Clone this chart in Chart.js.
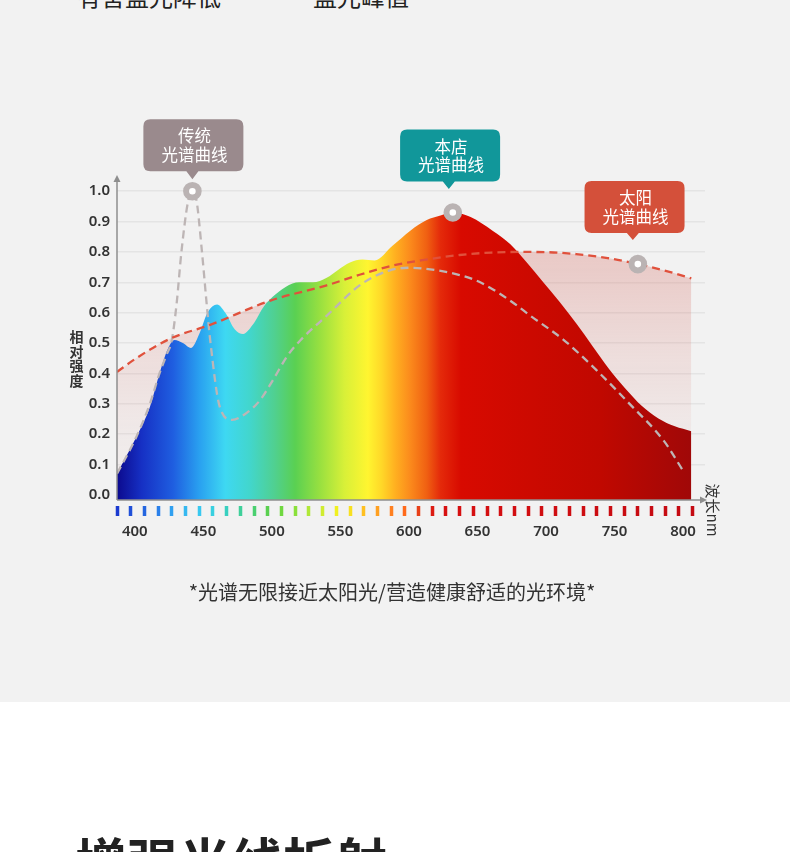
<!DOCTYPE html>
<html lang="zh">
<head>
<meta charset="utf-8">
<title>光谱曲线</title>
<script src="https://cdn.jsdelivr.net/npm/chart.js@4.4.1/dist/chart.umd.min.js"></script>
<style>
  html, body { margin: 0; padding: 0; }
  body { width: 790px; height: 852px; background: #fff; position: relative; overflow: hidden;
         font-family: "Noto Sans CJK SC", "Noto Sans", sans-serif; }
  .panel { position: absolute; left: 0; top: 0; width: 790px; height: 702px; background: #f2f2f2; }
  #chart { position: absolute; left: 0; top: 0; }
  .top-text { position: absolute; top: -16px; font-size: 24px; line-height: 24px; color: #222; white-space: nowrap; }
  .caption { position: absolute; left: 0; width: 784px; top: 580px; text-align: center;
             font-size: 20px; line-height: 24px; color: #333; }
  .next-title { position: absolute; left: 75px; top: 834px; font-size: 52px; line-height: 52px;
                font-weight: 700; color: #222; white-space: nowrap; }
</style>
</head>
<body>
<div class="panel"></div>
<div class="top-text" style="left:77px">有害蓝光降低</div>
<div class="top-text" style="left:313px">蓝光峰值</div>
<canvas id="chart" width="790" height="702"></canvas>
<div class="caption">*光谱无限接近太阳光/营造健康舒适的光环境*</div>
<div class="next-title">增强光线折射</div>

<script>
// wavelength in nm, relative intensity 0..1
const xLabels = [400, 450, 500, 550, 600, 650, 700, 750, 800];
const yTicks = [0, 0.1, 0.2, 0.3, 0.4, 0.5, 0.6, 0.7, 0.8, 0.9, 1.0];
const dashNm = [387, 397, 407, 417, 427, 437, 447, 457, 467, 477, 487, 497, 507, 517, 527,
                537, 547, 557, 567, 577, 587, 597, 607, 617, 627, 637, 647, 657, 667, 677,
                687, 697, 707, 717, 727, 737, 747, 757, 767, 777, 787, 797, 807];

// 本店 spectrum
const storeNm  = [387, 401, 411, 418, 424, 429, 435, 441, 447, 453, 460, 466, 473, 479, 486,
                  494, 501, 510, 520, 530, 540, 548, 557, 566, 575, 588, 601, 613, 623, 632,
                  645, 661, 674, 686, 698, 710, 722, 734, 746, 758, 770, 782, 794, 806];
const storeVal = [0.07, 0.19, 0.29, 0.40, 0.48, 0.51, 0.50, 0.484, 0.53, 0.60, 0.627, 0.60, 0.545, 0.53, 0.56,
                  0.62, 0.654, 0.685, 0.70, 0.70, 0.715, 0.74, 0.765, 0.775, 0.772, 0.82, 0.87, 0.905, 0.92, 0.93,
                  0.915, 0.87, 0.825, 0.765, 0.70, 0.635, 0.565, 0.49, 0.415, 0.35, 0.293, 0.252, 0.226, 0.21];

// 传统 spectrum
const oldNm  = [387, 401, 411, 418, 423, 427, 430.5, 434, 439, 442, 445, 449, 452.4, 455, 462,
                471, 480, 491, 501, 511, 521, 540, 564, 585, 601, 620, 637, 652, 676, 688,
                713, 737, 761, 786, 800];
const oldVal = [0.07, 0.19, 0.30, 0.40, 0.46, 0.51, 0.63, 0.80, 0.97, 1.0, 0.97, 0.80, 0.63, 0.51, 0.29,
                0.247, 0.265, 0.31, 0.38, 0.456, 0.51, 0.59, 0.69, 0.738, 0.748, 0.74, 0.724, 0.70, 0.633, 0.592,
                0.51, 0.41, 0.30, 0.178, 0.08];

// 太阳 spectrum
const sunNm  = [387, 401, 426, 455, 499, 540, 564, 588, 610, 637, 660, 681, 702, 722, 745, 767, 788, 806];
const sunVal = [0.405, 0.45, 0.515, 0.56, 0.64, 0.69, 0.725, 0.755, 0.773, 0.79, 0.798, 0.80, 0.799, 0.793, 0.78, 0.76, 0.737, 0.713];

// labelled points: 传统 peak, 本店 peak, 太阳
const peakNm  = [442, 632, 767];
const peakVal = [1.0, 0.93, 0.76];
const calloutText = [['传统', '光谱曲线'], ['本店', '光谱曲线'], ['太阳', '光谱曲线']];

// styling
const calloutStyle = [
    { color: '#9a8a8d', dx: 1,    tipDx: 0,  bottom: 20, tip: 12 },
    { color: '#11979a', dx: -2.7, tipDx: -4, bottom: 31, tip: 23.5 },
    { color: '#d4503a', dx: -3.3, tipDx: -5, bottom: 31, tip: 24 }
];
const areaStops = [[387, '#0c0a8e'], [405, '#1630c4'], [428, '#1f5ee0'], [447, '#29a0f0'], [466, '#3ed8f2'],
                   [484, '#42d6cc'], [502, '#50d090'], [517, '#5ad052'], [535, '#98e040'], [553, '#d8f038'],
                   [570, '#fff530'], [580, '#ffd828'], [590, '#ffb020'], [601, '#fb8a1c'], [613, '#f06012'],
                   [623, '#e42a0a'], [638, '#d80a00'], [740, '#c00800'], [806, '#a00808']];
const dashStops = [[387, '#1a3ad0'], [397, '#2050d8'], [407, '#2466e0'], [417, '#2a80ea'], [427, '#30a0f0'],
                   [437, '#35b8f0'], [447, '#38c8f0'], [457, '#38d0e0'], [467, '#38d0c0'], [477, '#3fd09a'],
                   [487, '#4ad070'], [497, '#5ad050'], [507, '#70d840'], [517, '#8ae03a'], [527, '#b0e838'],
                   [537, '#d0ec30'], [547, '#f0f020'], [557, '#f8e020'], [567, '#ffc020'], [577, '#ffa020'],
                   [587, '#ff8020'], [597, '#ff6a1a'], [607, '#e84018'], [620, '#d81010'], [807, '#c40a12']];

const toXY = (xs, ys) => xs.map((x, i) => ({ x: x, y: ys[i] }));

function hexRgb(h) {
    return [parseInt(h.slice(1, 3), 16), parseInt(h.slice(3, 5), 16), parseInt(h.slice(5, 7), 16)];
}

function stopColor(stops, v) {
    if (v <= stops[0][0]) return stops[0][1];
    for (let i = 1; i < stops.length; i++) {
        if (v <= stops[i][0]) {
            const t = (v - stops[i - 1][0]) / (stops[i][0] - stops[i - 1][0]);
            const a = hexRgb(stops[i - 1][1]), b = hexRgb(stops[i][1]);
            return 'rgb(' + a.map((c, k) => Math.round(c + (b[k] - c) * t)).join(',') + ')';
        }
    }
    return stops[stops.length - 1][1];
}

function storeFill(ctx) {
    const { chart } = ctx;
    const area = chart.chartArea;
    if (!area) return null;
    const xs = chart.scales.x;
    const x0 = xs.getPixelForValue(areaStops[0][0]);
    const x1 = xs.getPixelForValue(areaStops[areaStops.length - 1][0]);
    const g = chart.ctx.createLinearGradient(x0, 0, x1, 0);
    areaStops.forEach(s => g.addColorStop((xs.getPixelForValue(s[0]) - x0) / (x1 - x0), s[1]));
    return g;
}

function sunFill(ctx) {
    const { chart } = ctx;
    const area = chart.chartArea;
    if (!area) return null;
    const top = chart.scales.y.getPixelForValue(0.8);
    const g = chart.ctx.createLinearGradient(0, top, 0, area.bottom);
    g.addColorStop(0, 'rgba(214,110,100,0.31)');
    g.addColorStop(0.15, 'rgba(214,110,100,0.26)');
    g.addColorStop(0.4, 'rgba(214,110,100,0.16)');
    g.addColorStop(0.76, 'rgba(214,110,100,0.05)');
    g.addColorStop(1, 'rgba(214,110,100,0.03)');
    return g;
}

const decor = {
    id: 'decor',
    afterDraw(chart) {
        const { ctx, chartArea: a } = chart;
        ctx.save();

        // axes with arrow heads
        ctx.strokeStyle = '#8e8e8e';
        ctx.fillStyle = '#8e8e8e';
        ctx.lineWidth = 1.5;
        ctx.beginPath();
        ctx.moveTo(a.left, a.bottom);
        ctx.lineTo(a.left, a.top + 4);
        ctx.moveTo(a.left, a.bottom);
        ctx.lineTo(a.right - 4, a.bottom);
        ctx.stroke();
        ctx.beginPath();
        ctx.moveTo(a.left, a.top - 1);
        ctx.lineTo(a.left - 3.5, a.top + 6);
        ctx.lineTo(a.left + 3.5, a.top + 6);
        ctx.fill();
        ctx.beginPath();
        ctx.moveTo(a.right + 2, a.bottom);
        ctx.lineTo(a.right - 5, a.bottom - 3.5);
        ctx.lineTo(a.right - 5, a.bottom + 3.5);
        ctx.fill();

        // axis titles
        ctx.fillStyle = '#333';
        ctx.textAlign = 'center';
        ctx.textBaseline = 'middle';
        ctx.font = 'bold 14px "Noto Sans CJK SC"';
        '相对强度'.split('').forEach((ch, i) => ctx.fillText(ch, 76.5, 336.5 + i * 14.7));
        ctx.save();
        ctx.translate(713, 510);
        ctx.rotate(Math.PI / 2);
        ctx.font = '15px "Noto Sans CJK SC"';
        ctx.fillText('波长nm', 0, 0);
        ctx.restore();

        // callouts above the marked points
        const pts = chart.getDatasetMeta(4).data;
        pts.forEach((p, i) => {
            const s = calloutStyle[i];
            const w = 100, h = 52, r = 7;
            const cx = p.x + s.dx;
            const bottom = p.y - s.bottom;
            const left = cx - w / 2, top = bottom - h;
            const tx = p.x + s.tipDx;
            ctx.fillStyle = s.color;
            ctx.beginPath();
            ctx.moveTo(left + r, top);
            ctx.lineTo(left + w - r, top);
            ctx.quadraticCurveTo(left + w, top, left + w, top + r);
            ctx.lineTo(left + w, bottom - r);
            ctx.quadraticCurveTo(left + w, bottom, left + w - r, bottom);
            ctx.lineTo(tx + 6, bottom);
            ctx.lineTo(tx, p.y - s.tip);
            ctx.lineTo(tx - 6, bottom);
            ctx.lineTo(left + r, bottom);
            ctx.quadraticCurveTo(left, bottom, left, bottom - r);
            ctx.lineTo(left, top + r);
            ctx.quadraticCurveTo(left, top, left + r, top);
            ctx.closePath();
            ctx.fill();
            ctx.fillStyle = '#fff';
            ctx.font = '16.5px "Noto Sans CJK SC"';
            ctx.fillText(calloutText[i][0], cx + 1, top + 17);
            ctx.fillText(calloutText[i][1], cx + 1, top + 35.5);
        });
        ctx.restore();
    }
};

Chart.defaults.font.family = '"Noto Sans", "Noto Sans CJK SC", sans-serif';

const tickFont = { family: '"Noto Sans"', size: 15, weight: '600' };

new Chart(document.getElementById('chart'), {
    type: 'line',
    data: {
        datasets: [
            { label: '太阳光谱填充', data: toXY(sunNm, sunVal), borderWidth: 0, pointRadius: 0,
              fill: 'start', backgroundColor: sunFill, cubicInterpolationMode: 'monotone', order: 5 },
            { label: '本店光谱曲线', data: toXY(storeNm, storeVal), borderWidth: 0, pointRadius: 0,
              fill: 'start', backgroundColor: storeFill, cubicInterpolationMode: 'monotone', order: 4 },
            { label: '传统光谱曲线', data: toXY(oldNm, oldVal), borderColor: '#bdb5b5', borderWidth: 2.3,
              borderDash: [8, 5], pointRadius: 0, fill: false, cubicInterpolationMode: 'monotone', order: 3 },
            { label: '太阳光谱曲线', data: toXY(sunNm, sunVal), borderColor: '#e0513c', borderWidth: 2.3,
              borderDash: [8, 5], pointRadius: 0, fill: false, cubicInterpolationMode: 'monotone', order: 2 },
            { label: '标记', data: toXY(peakNm, peakVal), showLine: false, pointRadius: 6.3, pointHoverRadius: 6.3,
              pointBorderWidth: 6, pointBorderColor: '#bab3b3', pointBackgroundColor: '#fff', clip: false, order: 1 }
        ]
    },
    options: {
        responsive: false,
        animation: false,
        events: [],
        layout: { padding: { left: 0, top: 176, right: 85, bottom: 160 } },
        plugins: { legend: { display: false }, tooltip: { enabled: false } },
        scales: {
            x: {
                type: 'linear', position: 'bottom', min: 387, max: 816, weight: 1,
                afterBuildTicks: s => { s.ticks = xLabels.map(v => ({ value: v })); },
                afterFit: s => { s.height = 26; },
                grid: { display: false, drawTicks: false },
                border: { display: false },
                ticks: { padding: 7, color: '#333', font: tickFont, maxRotation: 0, autoSkip: false }
            },
            xd: {
                type: 'linear', position: 'bottom', min: 387, max: 816, weight: 0,
                afterBuildTicks: s => { s.ticks = dashNm.map(v => ({ value: v })); },
                afterFit: s => { s.height = 16; },
                ticks: { display: false },
                border: { display: false },
                grid: {
                    drawOnChartArea: false, drawTicks: true, tickLength: 16, tickWidth: 3.5,
                    tickColor: c => stopColor(dashStops, c.tick.value),
                    tickBorderDash: [0, 6, 10, 30]
                }
            },
            y: {
                type: 'linear', min: -0.0165, max: 1.05,
                afterBuildTicks: s => { s.ticks = yTicks.map(v => ({ value: v })); },
                afterFit: s => { s.width = 117; },
                border: { display: false },
                grid: {
                    drawTicks: false, lineWidth: 1.6,
                    color: c => (c.tick && c.tick.value === 0) ? 'rgba(0,0,0,0)' : '#e4e4e4'
                },
                ticks: { padding: 7, color: '#333', font: tickFont, callback: v => v.toFixed(1) }
            }
        }
    },
    plugins: [decor]
});
</script>
</body>
</html>
